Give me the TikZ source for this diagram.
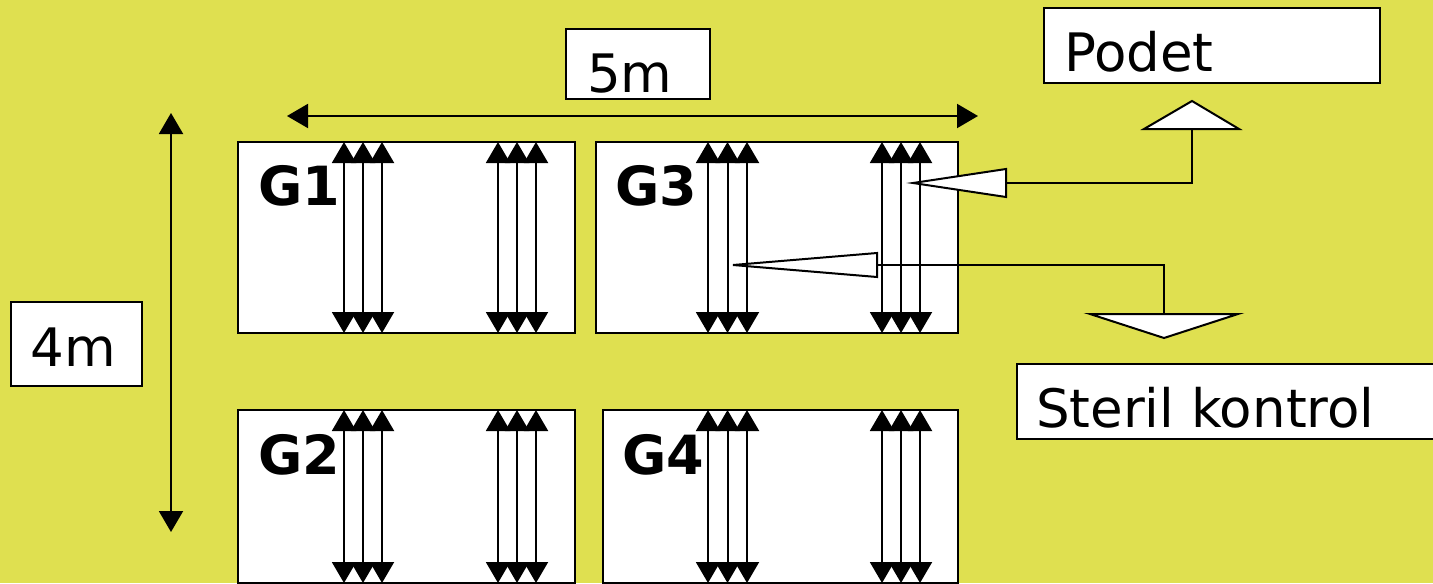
\documentclass[tikz,border=0pt]{standalone}
\usepackage{fontspec}
\setmainfont{DejaVu Sans}
\usetikzlibrary{arrows.meta,fit}
\definecolor{feltgul}{RGB}{223,224,80}

\begin{document}
\begin{tikzpicture}[x=0.5pt,y=-0.5pt,line width=1pt,
  felt/.style={draw,fill=white,inner sep=0pt},
  tekst/.style={anchor=base west,inner sep=0pt,font=\fontsize{26.5}{30}\selectfont},
  gnavn/.style={anchor=base west,inner sep=0pt,font=\fontsize{27}{30}\selectfont\bfseries},
  maal/.style={{Triangle[length=10.5pt,width=12pt]}-{Triangle[length=10.5pt,width=12pt]}},
  pil/.style={draw,fill=white,line join=miter}]
\fill[feltgul] (0,0) rectangle (1433,583);
\useasboundingbox (0,0) rectangle (1433,583);
% maal
\node[felt,fit={(566,29) (710,99)}] (fem) {};
\node[tekst] (femtekst) at (586,92) {5m};
\node[felt,fit={(11,302) (142,386)}] (fire) {};
\node[tekst] (firetekst) at (30,366) {4m};
\coordinate (hv) at (287,116);
\coordinate (hh) at (978,116);
\coordinate (vo) at (171,113);
\coordinate (vn) at (171,532);
\draw[maal] (hv) -- (hh);
\draw[maal] (vo) -- (vn);
% felter
\node[felt,fit={(238,142) (575,333)}] (g1) {};
\node[felt,fit={(596,142) (958,333)}] (g3) {};
\node[felt,fit={(238,410) (575,583)}] (g2) {};
\node[felt,fit={(603,410) (958,583)}] (g4) {};
\node[gnavn] (g1navn) at (257,205) {G1};
\node[gnavn] (g3navn) at (614,205) {G3};
\node[gnavn] (g2navn) at (257,474) {G2};
\node[gnavn] (g4navn) at (621,474) {G4};
\foreach \xx in {344,363,382,498,517,536}{
  \draw[maal] (\xx,142) -- (\xx,333);
  \draw[maal] (\xx,410) -- (\xx,583);}
\foreach \xx in {708,727.5,747,882,901,920}{
  \draw[maal] (\xx,142) -- (\xx,333);
  \draw[maal] (\xx,410) -- (\xx,583);}
% podet og steril kontrol
\node[felt,fit={(1044,8) (1380,83)}] (podet) {};
\node[tekst] (podettekst) at (1063,72) {Podet};
\node[felt,fit={(1017,364) (1445,439)}] (steril) {};
\node[tekst] (steriltekst) at (1035,427) {Steril kontrol};
\coordinate (podetfod) at (1192,129);
\coordinate (podetind) at (1006,183);
\coordinate (sterilind) at (877,265);
\coordinate (sterilfod) at (1164,314);
\draw (podetfod) |- (podetind);
\draw (sterilind) -| (sterilfod);
\draw[pil] (1144,129) -- (1192,101) -- (1239,129) -- cycle;
\draw[pil] (1006,169) -- (913,183) -- (1006,197) -- cycle;
\draw[pil] (1090,314) -- (1164,338) -- (1238,314) -- cycle;
\draw[pil] (877,253) -- (733,265) -- (877,277) -- cycle;
\end{tikzpicture}
\end{document}
